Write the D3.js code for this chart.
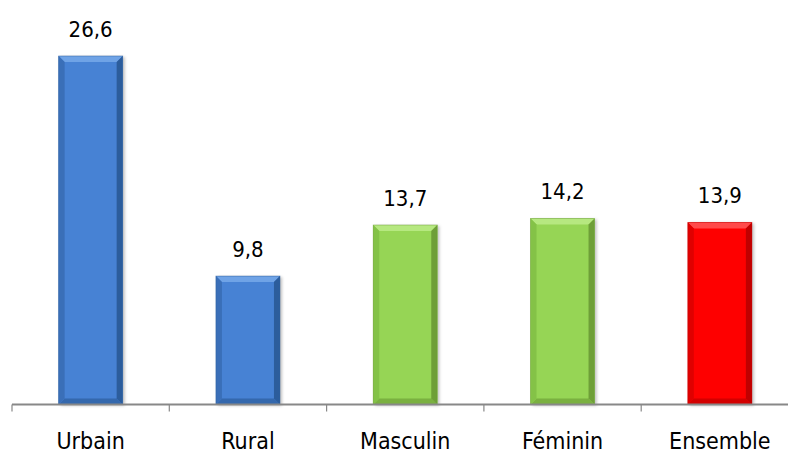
<!DOCTYPE html>
<html>
<head>
<meta charset="utf-8">
<script src="https://cdn.jsdelivr.net/npm/d3@7"></script>
<style>
body { margin: 0; background: #fff; }
svg { display: block; font-family: "DejaVu Sans Condensed", "DejaVu Sans", sans-serif; }
</style>
</head>
<body>
<svg width="788" height="455"></svg>
<script>
'use strict';

const categories = ["Urbain", "Rural", "Masculin", "Féminin", "Ensemble"];
const values = [26.6, 9.8, 13.7, 14.2, 13.9];
const groups = ["blue", "blue", "green", "green", "red"];

const palette = {
    blue: {base: "#4682d4", light: "#6fa3e6", dark: "#2c5d9c", side: "#3a6fb8"},
    green: {base: "#96d555", light: "#b6e880", dark: "#6e9f38", side: "#84c247"},
    red: {base: "#fe0000", light: "#ff4a4a", dark: "#c00000", side: "#e00000"}
};

const svg = d3.select("svg");
const axisY = 404.5;

const x = d3.scaleBand()
    .domain(categories)
    .range([12, 798.5])
    .paddingInner(0.593)
    .paddingOuter(0.2965);

const y = d3.scaleLinear()
    .domain([0, 26.6])
    .range([axisY, 56]);

const data = categories.map(function (c, i) {
    return {cat: c, value: values[i], col: palette[groups[i]]};
});

const defs = svg.append("defs");
defs.append("filter").attr("id", "shadow")
    .attr("x", "-20%").attr("y", "-10%").attr("width", "140%").attr("height", "120%")
    .append("feDropShadow")
    .attr("dx", 2).attr("dy", 1).attr("stdDeviation", 1.5)
    .attr("flood-color", "#000").attr("flood-opacity", 0.25);

const bev = 6;
const bars = svg.selectAll(".bar").data(data).enter()
    .append("g").attr("class", "bar")
    .attr("transform", function (d) { return "translate(" + x(d.cat) + "," + y(d.value) + ")"; });

bars.each(function (d) {
    const g = d3.select(this);
    const w = x.bandwidth();
    const h = axisY - y(d.value);
    g.append("rect").attr("width", w).attr("height", h)
        .attr("fill", d.col.base).attr("filter", "url(#shadow)");
    // bevel: top, bottom, left, right
    g.append("polygon").attr("points", [[0, 0], [w, 0], [w - bev, bev], [bev, bev]].join(" "))
        .attr("fill", d.col.light);
    g.append("polygon").attr("points", [[0, h], [w, h], [w - bev, h - bev], [bev, h - bev]].join(" "))
        .attr("fill", d.col.dark).attr("opacity", 0.7);
    g.append("polygon").attr("points", [[0, 0], [bev, bev], [bev, h - bev], [0, h]].join(" "))
        .attr("fill", d.col.side);
    g.append("polygon").attr("points", [[w, 0], [w - bev, bev], [w - bev, h - bev], [w, h]].join(" "))
        .attr("fill", d.col.dark);
    g.append("rect").attr("width", w).attr("height", h)
        .attr("fill", "none").attr("stroke", d.col.dark).attr("stroke-width", 0.8).attr("opacity", 0.6);
});

svg.selectAll(".val").data(data).enter()
    .append("text").attr("class", "val")
    .attr("x", function (d) { return x(d.cat) + x.bandwidth() / 2; })
    .attr("y", function (d) { return y(d.value) - 19; })
    .attr("text-anchor", "middle")
    .attr("font-size", 22)
    .attr("fill", "#000")
    .text(function (d) { return d.value.toFixed(1).replace(".", ","); });

// axis line with ticks at band edges
svg.append("line")
    .attr("x1", 12).attr("x2", 788)
    .attr("y1", axisY).attr("y2", axisY)
    .attr("stroke", "#888").attr("stroke-width", 2);

const tickPos = categories.map(function (c) { return x(c) - x.step() * x.paddingInner() / 2; });
tickPos[0] = 12;
svg.selectAll(".tick").data(tickPos).enter()
    .append("line").attr("class", "tick")
    .attr("x1", function (d) { return d; }).attr("x2", function (d) { return d; })
    .attr("y1", axisY).attr("y2", axisY + 7)
    .attr("stroke", "#888").attr("stroke-width", 1.2);

svg.selectAll(".cat").data(categories).enter()
    .append("text").attr("class", "cat")
    .attr("x", function (d) { return x(d) + x.bandwidth() / 2; })
    .attr("y", 449)
    .attr("text-anchor", "middle")
    .attr("font-size", 23)
    .attr("fill", "#000")
    .text(function (d) { return d; });
</script>
</body>
</html>
